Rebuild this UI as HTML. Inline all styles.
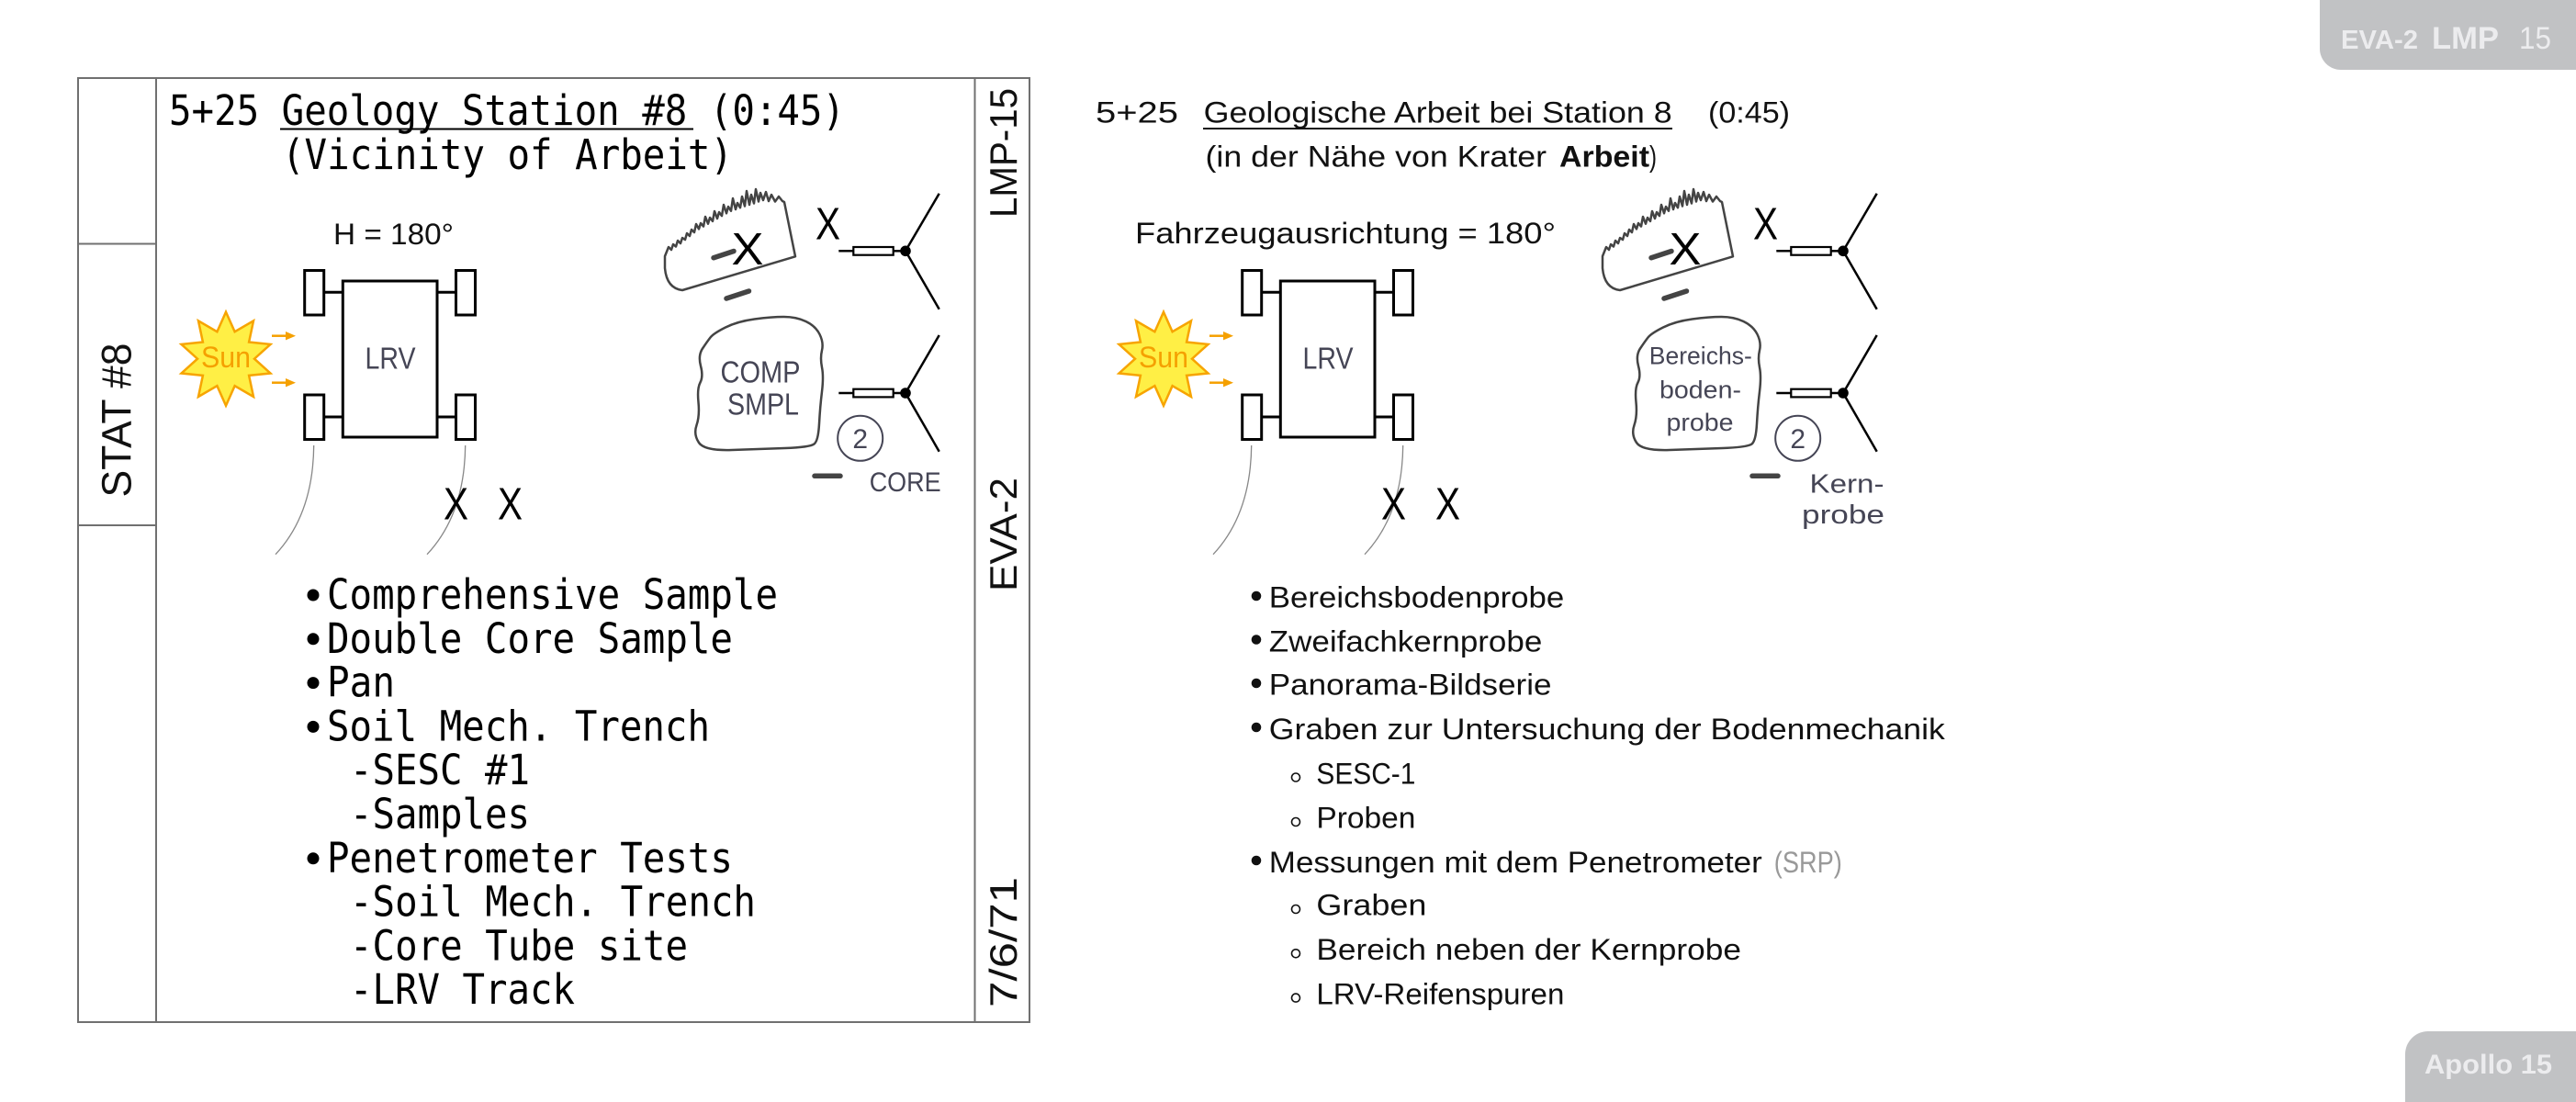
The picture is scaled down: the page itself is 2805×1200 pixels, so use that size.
<!DOCTYPE html>
<html><head><meta charset="utf-8"><style>
html,body{margin:0;padding:0;background:#fff;}
svg{display:block;}
</style></head><body>
<svg xmlns="http://www.w3.org/2000/svg" width="2805" height="1200" viewBox="0 0 2805 1200">
<rect x="0" y="0" width="2805" height="1200" fill="#fff"/>

<!-- Tabs -->
<path d="M2526,0 H2805 V76 H2549 A23,23 0 0 1 2526,53 Z" fill="#c1c2c4"/>
<g font-family="Liberation Sans, sans-serif" fill="#ececee">
<text x="2549" y="53" font-size="29" font-weight="bold" textLength="84" lengthAdjust="spacingAndGlyphs">EVA-2</text>
<text x="2648" y="53" font-size="34" font-weight="bold" textLength="73" lengthAdjust="spacingAndGlyphs">LMP</text>
<text x="2743" y="53" font-size="34" textLength="35" lengthAdjust="spacingAndGlyphs">15</text>
</g>
<path d="M2619,1200 V1148 A25,25 0 0 1 2644,1123 H2805 V1200 Z" fill="#c1c2c4"/>
<text x="2640" y="1169" font-family="Liberation Sans, sans-serif" font-size="30" font-weight="bold" fill="#ececee" textLength="139" lengthAdjust="spacingAndGlyphs">Apollo 15</text>

<!-- Left panel frame -->
<g stroke="#707070" stroke-width="2" fill="none">
<rect x="85" y="85" width="1036" height="1028"/>
<line x1="170" y1="85" x2="170" y2="1113"/>
<line x1="1061.5" y1="85" x2="1061.5" y2="1113"/>
<line x1="85" y1="265.5" x2="170" y2="265.5"/>
<line x1="85" y1="572" x2="170" y2="572"/>
</g>

<!-- vertical labels -->
<g font-family="Liberation Sans, sans-serif" fill="#111" text-anchor="middle">
<text transform="translate(142.7,457.5) rotate(-90)" font-size="45" textLength="168" lengthAdjust="spacingAndGlyphs">STAT #8</text>
<text transform="translate(1107,166.5) rotate(-90)" font-size="42" textLength="141" lengthAdjust="spacingAndGlyphs">LMP-15</text>
<text transform="translate(1107,582) rotate(-90)" font-size="42" textLength="124" lengthAdjust="spacingAndGlyphs">EVA-2</text>
<text transform="translate(1107,1026) rotate(-90)" font-size="42" textLength="142" lengthAdjust="spacingAndGlyphs">7/6/71</text>
</g>

<!-- English title & list -->
<g font-family="DejaVu Sans Mono, Liberation Mono, monospace" font-size="45" fill="#000">
<text x="184" y="136" textLength="736" lengthAdjust="spacingAndGlyphs">5+25 Geology Station #8 (0:45)</text>
<text x="307" y="184" textLength="491" lengthAdjust="spacingAndGlyphs">(Vicinity of Arbeit)</text>
<text x="356" y="663" textLength="491" lengthAdjust="spacingAndGlyphs">Comprehensive Sample</text>
<text x="356" y="710.8" textLength="442" lengthAdjust="spacingAndGlyphs">Double Core Sample</text>
<text x="356" y="758.6" textLength="74" lengthAdjust="spacingAndGlyphs">Pan</text>
<text x="356" y="806.4" textLength="417" lengthAdjust="spacingAndGlyphs">Soil Mech. Trench</text>
<text x="381" y="854.2" textLength="196" lengthAdjust="spacingAndGlyphs">-SESC #1</text>
<text x="381" y="902" textLength="196" lengthAdjust="spacingAndGlyphs">-Samples</text>
<text x="356" y="949.8" textLength="442" lengthAdjust="spacingAndGlyphs">Penetrometer Tests</text>
<text x="381" y="997.6" textLength="442" lengthAdjust="spacingAndGlyphs">-Soil Mech. Trench</text>
<text x="381" y="1045.4" textLength="368" lengthAdjust="spacingAndGlyphs">-Core Tube site</text>
<text x="381" y="1093.2" textLength="245" lengthAdjust="spacingAndGlyphs">-LRV Track</text>
</g>
<line x1="305" y1="140.5" x2="755" y2="140.5" stroke="#000" stroke-width="2"/>
<g fill="#000">
<circle cx="341" cy="648" r="6.5"/>
<circle cx="341" cy="695.8" r="6.5"/>
<circle cx="341" cy="743.6" r="6.5"/>
<circle cx="341" cy="791.4" r="6.5"/>
<circle cx="341" cy="934.8" r="6.5"/>
</g>

<!-- Shared diagram (English position) -->
<g>
  <polygon points="246,339.7 255.6,361.2 276,349.4 271.1,372.5 294.5,374.9 277,390.7 294.5,406.5 271.1,408.9 276,432 255.6,420.2 246,441.7 236.4,420.2 216,432 220.9,408.9 197.5,406.5 215,390.7 197.5,374.9 220.9,372.5 216,349.4 236.4,361.2" fill="#ffef45" stroke="#f7a400" stroke-width="2.5" stroke-linejoin="miter"/>
  <text x="246" y="400" text-anchor="middle" font-family="Liberation Sans, sans-serif" font-size="32" fill="#f5a000" textLength="54" lengthAdjust="spacingAndGlyphs">Sun</text>
  <g stroke="#f5a000" stroke-width="2.5" fill="#f5a000">
    <line x1="296" y1="365.7" x2="312" y2="365.7"/>
    <polygon points="311,361 322,365.7 311,370.4" stroke="none"/>
    <line x1="296" y1="416.7" x2="312" y2="416.7"/>
    <polygon points="311,412 322,416.7 311,421.4" stroke="none"/>
  </g>
  <g stroke="#000" stroke-width="3" fill="#fff">
    <line x1="352.7" y1="318.3" x2="373.3" y2="318.3"/>
    <line x1="476" y1="318.3" x2="496.5" y2="318.3"/>
    <line x1="352.7" y1="454" x2="373.3" y2="454"/>
    <line x1="476" y1="454" x2="496.5" y2="454"/>
    <rect x="373.3" y="306" width="102.7" height="170"/>
    <rect x="331.7" y="294.5" width="21" height="48.5"/>
    <rect x="496.5" y="294.5" width="21" height="48.5"/>
    <rect x="331.7" y="430" width="21" height="48.5"/>
    <rect x="496.5" y="430" width="21" height="48.5"/>
  </g>
  <text x="425" y="401.7" text-anchor="middle" font-family="Liberation Sans, sans-serif" font-size="33" fill="#454555" textLength="55" lengthAdjust="spacingAndGlyphs">LRV</text>
  <g stroke="#888" stroke-width="1.3" fill="none">
    <path d="M341.7,485 Q341,560 300,603.7"/>
    <path d="M506.7,485 Q506,560 465,603.7"/>
  </g>
  <g font-family="Liberation Sans, sans-serif" font-size="49" fill="#000" text-anchor="middle">
    <text x="496.5" y="565.6" textLength="27" lengthAdjust="spacingAndGlyphs">X</text>
    <text x="555.5" y="565.6" textLength="27" lengthAdjust="spacingAndGlyphs">X</text>
    <text x="814" y="288" textLength="35" lengthAdjust="spacingAndGlyphs">X</text>
    <text x="901.5" y="260.7" textLength="27" lengthAdjust="spacingAndGlyphs">X</text>
  </g>
  <path d="M854,220 L866,279.3 L743,316 Q726,314 724,292 L724,279 L726,274 L728,269 L731,272 L733,266 L736,268.5 L738,262 L741,265 L743,259 L746,261 L748,254 L751,257 L753,250 L756,253 L758,244 L761,249.4 L763,243 L766,246.6 L768,236 L771,243.7 L773,237 L776,240.9 L778,230 L781,238 L783,231 L786,235.1 L788,223 L791,232.3 L793,225 L796,229.7 L798,216 L801,228 L803,221 L806,226.2 L808,214 L811,224.5 L813,208 L816,223 L818,212 L821,221.5 L823,206 L826,219.5 L828,210 L831,218 L834,209 L837,219 L840,212 L844,219.5 L848,214 L852,219 Z" fill="none" stroke="#444" stroke-width="2.5" stroke-linejoin="round"/>
  <g stroke="#444" stroke-width="5.5" stroke-linecap="round">
    <line x1="777" y1="280.7" x2="799" y2="273.5"/>
    <line x1="791" y1="325" x2="815.5" y2="317"/>
    <line x1="887" y1="518.3" x2="915" y2="518.3"/>
  </g>
  <g stroke="#000" stroke-width="2.5" fill="none">
    <line x1="913.3" y1="273.3" x2="929.3" y2="273.3"/>
    <line x1="972.7" y1="273.3" x2="986" y2="273.3"/>
    <line x1="986" y1="273.3" x2="1022.7" y2="210.7"/>
    <line x1="986" y1="273.3" x2="1022.7" y2="336.7"/>
    <rect x="929.3" y="269" width="43.4" height="8.7" fill="#fff" stroke-width="2.2"/>
    <line x1="913.3" y1="428" x2="929.3" y2="428"/>
    <line x1="972.7" y1="428" x2="986" y2="428"/>
    <line x1="986" y1="428" x2="1022.7" y2="365"/>
    <line x1="986" y1="428" x2="1022.7" y2="491.7"/>
    <rect x="929.3" y="423.7" width="43.4" height="8.7" fill="#fff" stroke-width="2.2"/>
  </g>
  <circle cx="986" cy="273.3" r="5.8" fill="#000"/>
  <circle cx="986" cy="428" r="5.8" fill="#000"/>
  <path d="M773.5,367.5 Q777,363 790,356.5 Q803,350 821.5,347.5 Q840,345 853.5,345 Q867,345 877.5,350 Q888,355 892.5,364 Q897,373 895,381.5 Q893,390 895,400 Q897,410 895,426.5 Q893,443 892,461.5 Q891,480 886.5,483.5 Q882,487 854.5,488 Q827,489 797,490 Q767,491 761,482 Q755,473 758.5,463 Q762,453 760.5,438 Q759,423 762.5,416.5 Q766,410 763,398.5 Q760,387 765,379.5 Q770,372 773.5,367.5 Z" fill="none" stroke="#444" stroke-width="2.5"/>
  <circle cx="936.7" cy="477.3" r="24.5" fill="none" stroke="#454555" stroke-width="2"/>
  <text x="936.7" y="488" text-anchor="middle" font-family="Liberation Sans, sans-serif" font-size="30" fill="#454555">2</text>
</g>

<!-- English-only diagram labels -->
<g font-family="Liberation Sans, sans-serif">
<text x="363" y="266" font-size="32" fill="#111" textLength="131" lengthAdjust="spacingAndGlyphs">H = 180°</text>
<text x="828" y="416.7" text-anchor="middle" font-size="33" fill="#454555" textLength="87" lengthAdjust="spacingAndGlyphs">COMP</text>
<text x="831" y="451.7" text-anchor="middle" font-size="33" fill="#454555" textLength="78" lengthAdjust="spacingAndGlyphs">SMPL</text>
<text x="946.7" y="535" font-size="30" fill="#454555" textLength="78" lengthAdjust="spacingAndGlyphs">CORE</text>
</g>

<!-- German diagram (same shapes shifted) -->
<g transform="translate(1021,0)">
  <polygon points="246,339.7 255.6,361.2 276,349.4 271.1,372.5 294.5,374.9 277,390.7 294.5,406.5 271.1,408.9 276,432 255.6,420.2 246,441.7 236.4,420.2 216,432 220.9,408.9 197.5,406.5 215,390.7 197.5,374.9 220.9,372.5 216,349.4 236.4,361.2" fill="#ffef45" stroke="#f7a400" stroke-width="2.5" stroke-linejoin="miter"/>
  <text x="246" y="400" text-anchor="middle" font-family="Liberation Sans, sans-serif" font-size="32" fill="#f5a000" textLength="54" lengthAdjust="spacingAndGlyphs">Sun</text>
  <g stroke="#f5a000" stroke-width="2.5" fill="#f5a000">
    <line x1="296" y1="365.7" x2="312" y2="365.7"/>
    <polygon points="311,361 322,365.7 311,370.4" stroke="none"/>
    <line x1="296" y1="416.7" x2="312" y2="416.7"/>
    <polygon points="311,412 322,416.7 311,421.4" stroke="none"/>
  </g>
  <g stroke="#000" stroke-width="3" fill="#fff">
    <line x1="352.7" y1="318.3" x2="373.3" y2="318.3"/>
    <line x1="476" y1="318.3" x2="496.5" y2="318.3"/>
    <line x1="352.7" y1="454" x2="373.3" y2="454"/>
    <line x1="476" y1="454" x2="496.5" y2="454"/>
    <rect x="373.3" y="306" width="102.7" height="170"/>
    <rect x="331.7" y="294.5" width="21" height="48.5"/>
    <rect x="496.5" y="294.5" width="21" height="48.5"/>
    <rect x="331.7" y="430" width="21" height="48.5"/>
    <rect x="496.5" y="430" width="21" height="48.5"/>
  </g>
  <text x="425" y="401.7" text-anchor="middle" font-family="Liberation Sans, sans-serif" font-size="33" fill="#454555" textLength="55" lengthAdjust="spacingAndGlyphs">LRV</text>
  <g stroke="#888" stroke-width="1.3" fill="none">
    <path d="M341.7,485 Q341,560 300,603.7"/>
    <path d="M506.7,485 Q506,560 465,603.7"/>
  </g>
  <g font-family="Liberation Sans, sans-serif" font-size="49" fill="#000" text-anchor="middle">
    <text x="496.5" y="565.6" textLength="27" lengthAdjust="spacingAndGlyphs">X</text>
    <text x="555.5" y="565.6" textLength="27" lengthAdjust="spacingAndGlyphs">X</text>
    <text x="814" y="288" textLength="35" lengthAdjust="spacingAndGlyphs">X</text>
    <text x="901.5" y="260.7" textLength="27" lengthAdjust="spacingAndGlyphs">X</text>
  </g>
  <path d="M854,220 L866,279.3 L743,316 Q726,314 724,292 L724,279 L726,274 L728,269 L731,272 L733,266 L736,268.5 L738,262 L741,265 L743,259 L746,261 L748,254 L751,257 L753,250 L756,253 L758,244 L761,249.4 L763,243 L766,246.6 L768,236 L771,243.7 L773,237 L776,240.9 L778,230 L781,238 L783,231 L786,235.1 L788,223 L791,232.3 L793,225 L796,229.7 L798,216 L801,228 L803,221 L806,226.2 L808,214 L811,224.5 L813,208 L816,223 L818,212 L821,221.5 L823,206 L826,219.5 L828,210 L831,218 L834,209 L837,219 L840,212 L844,219.5 L848,214 L852,219 Z" fill="none" stroke="#444" stroke-width="2.5" stroke-linejoin="round"/>
  <g stroke="#444" stroke-width="5.5" stroke-linecap="round">
    <line x1="777" y1="280.7" x2="799" y2="273.5"/>
    <line x1="791" y1="325" x2="815.5" y2="317"/>
    <line x1="887" y1="518.3" x2="915" y2="518.3"/>
  </g>
  <g stroke="#000" stroke-width="2.5" fill="none">
    <line x1="913.3" y1="273.3" x2="929.3" y2="273.3"/>
    <line x1="972.7" y1="273.3" x2="986" y2="273.3"/>
    <line x1="986" y1="273.3" x2="1022.7" y2="210.7"/>
    <line x1="986" y1="273.3" x2="1022.7" y2="336.7"/>
    <rect x="929.3" y="269" width="43.4" height="8.7" fill="#fff" stroke-width="2.2"/>
    <line x1="913.3" y1="428" x2="929.3" y2="428"/>
    <line x1="972.7" y1="428" x2="986" y2="428"/>
    <line x1="986" y1="428" x2="1022.7" y2="365"/>
    <line x1="986" y1="428" x2="1022.7" y2="491.7"/>
    <rect x="929.3" y="423.7" width="43.4" height="8.7" fill="#fff" stroke-width="2.2"/>
  </g>
  <circle cx="986" cy="273.3" r="5.8" fill="#000"/>
  <circle cx="986" cy="428" r="5.8" fill="#000"/>
  <path d="M773.5,367.5 Q777,363 790,356.5 Q803,350 821.5,347.5 Q840,345 853.5,345 Q867,345 877.5,350 Q888,355 892.5,364 Q897,373 895,381.5 Q893,390 895,400 Q897,410 895,426.5 Q893,443 892,461.5 Q891,480 886.5,483.5 Q882,487 854.5,488 Q827,489 797,490 Q767,491 761,482 Q755,473 758.5,463 Q762,453 760.5,438 Q759,423 762.5,416.5 Q766,410 763,398.5 Q760,387 765,379.5 Q770,372 773.5,367.5 Z" fill="none" stroke="#444" stroke-width="2.5"/>
  <circle cx="936.7" cy="477.3" r="24.5" fill="none" stroke="#454555" stroke-width="2"/>
  <text x="936.7" y="488" text-anchor="middle" font-family="Liberation Sans, sans-serif" font-size="30" fill="#454555">2</text>
</g>

<!-- German labels -->
<g font-family="Liberation Sans, sans-serif" fill="#111">
<text x="1193" y="133.3" font-size="32" textLength="90" lengthAdjust="spacingAndGlyphs">5+25</text>
<text x="1310.7" y="133.3" font-size="32" textLength="510" lengthAdjust="spacingAndGlyphs">Geologische Arbeit bei Station 8</text>
<text x="1860" y="133.3" font-size="32" textLength="89" lengthAdjust="spacingAndGlyphs">(0:45)</text>
<text x="1312.5" y="181.7" font-size="32" textLength="371.5" lengthAdjust="spacingAndGlyphs">(in der Nähe von Krater</text>
<text x="1698" y="181.7" font-size="32" font-weight="bold" textLength="98" lengthAdjust="spacingAndGlyphs">Arbeit</text>
<text x="1796" y="181.7" font-size="32" textLength="8" lengthAdjust="spacingAndGlyphs">)</text>
<text x="1236" y="265" font-size="32" textLength="458" lengthAdjust="spacingAndGlyphs">Fahrzeugausrichtung = 180°</text>
</g>
<line x1="1310" y1="140" x2="1821" y2="140" stroke="#111" stroke-width="2"/>
<g font-family="Liberation Sans, sans-serif" fill="#454555" text-anchor="middle">
<text x="1851.8" y="396.7" font-size="27" textLength="112" lengthAdjust="spacingAndGlyphs">Bereichs-</text>
<text x="1851.5" y="433.3" font-size="27" textLength="89" lengthAdjust="spacingAndGlyphs">boden-</text>
<text x="1851" y="469" font-size="27" textLength="73" lengthAdjust="spacingAndGlyphs">probe</text>
<text x="2011" y="536.7" font-size="29" textLength="81" lengthAdjust="spacingAndGlyphs">Kern-</text>
<text x="2007" y="570" font-size="29" textLength="90" lengthAdjust="spacingAndGlyphs">probe</text>
</g>

<!-- German list -->
<g font-family="Liberation Sans, sans-serif" font-size="32" fill="#111">
<text x="1381.8" y="661.7" textLength="321.5" lengthAdjust="spacingAndGlyphs">Bereichsbodenprobe</text>
<text x="1381.8" y="709.3" textLength="297.5" lengthAdjust="spacingAndGlyphs">Zweifachkernprobe</text>
<text x="1381.8" y="756.7" textLength="307.7" lengthAdjust="spacingAndGlyphs">Panorama-Bildserie</text>
<text x="1381.8" y="805" textLength="736" lengthAdjust="spacingAndGlyphs">Graben zur Untersuchung der Bodenmechanik</text>
<text x="1433.4" y="853.3" textLength="108" lengthAdjust="spacingAndGlyphs">SESC-1</text>
<text x="1433.4" y="901.7" textLength="108" lengthAdjust="spacingAndGlyphs">Proben</text>
<text x="1381.8" y="950" textLength="537" lengthAdjust="spacingAndGlyphs">Messungen mit dem Penetrometer</text>
<text x="1931.8" y="950" textLength="74" lengthAdjust="spacingAndGlyphs" fill="#999">(SRP)</text>
<text x="1433.4" y="996.7" textLength="120" lengthAdjust="spacingAndGlyphs">Graben</text>
<text x="1433.4" y="1045" textLength="462.6" lengthAdjust="spacingAndGlyphs">Bereich neben der Kernprobe</text>
<text x="1433.4" y="1093.3" textLength="270" lengthAdjust="spacingAndGlyphs">LRV-Reifenspuren</text>
</g>
<g fill="#111">
<circle cx="1368" cy="649" r="5.3"/>
<circle cx="1368" cy="696.5" r="5.3"/>
<circle cx="1368" cy="744" r="5.3"/>
<circle cx="1368" cy="792" r="5.3"/>
<circle cx="1368" cy="937" r="5.3"/>
</g>
<g fill="none" stroke="#111" stroke-width="1.6">
<circle cx="1411" cy="846.5" r="4.5"/>
<circle cx="1411" cy="895" r="4.5"/>
<circle cx="1411" cy="990" r="4.5"/>
<circle cx="1411" cy="1038.3" r="4.5"/>
<circle cx="1411" cy="1086.6" r="4.5"/>
</g>
</svg>
</body></html>
